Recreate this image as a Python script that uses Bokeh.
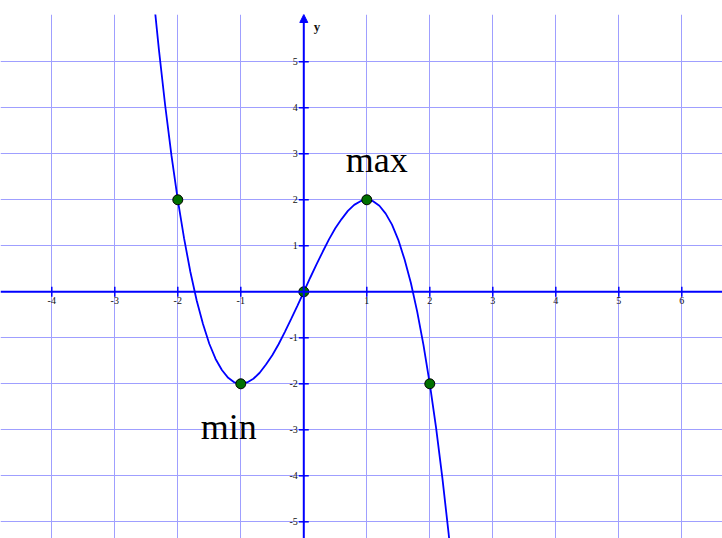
import math
from bokeh.plotting import figure
from bokeh.models import Range1d, Grid, FixedTicker, Span, Arrow, NormalHead
from bokeh.core.properties import value
from bokeh.embed import file_html
from bokeh.resources import INLINE

# ---- data ----
curve_x = [-2.4, -2.3, -2.2, -2.1, -2.0, -1.9, -1.8, -1.7, -1.6, -1.5, -1.4, -1.3, -1.2,
           -1.1, -1.0, -0.9, -0.8, -0.7, -0.6, -0.5, -0.4, -0.3, -0.2, -0.1, 0.0,
           0.1, 0.2, 0.3, 0.4, 0.5, 0.6, 0.7, 0.8, 0.9, 1.0, 1.1, 1.2, 1.3, 1.4,
           1.5, 1.6, 1.7, 1.8, 1.9, 2.0, 2.1, 2.2, 2.3, 2.4]
curve_y = [6.62, 5.27, 4.05, 2.96, 2.0, 1.16, 0.43, -0.19, -0.70, -1.13, -1.46, -1.70, -1.87,
           -1.97, -2.0, -1.97, -1.89, -1.76, -1.58, -1.38, -1.14, -0.87, -0.59, -0.30, 0.0,
           0.30, 0.59, 0.87, 1.14, 1.38, 1.58, 1.76, 1.89, 1.97, 2.0, 1.97, 1.87, 1.70, 1.46,
           1.13, 0.70, 0.19, -0.43, -1.16, -2.0, -2.96, -4.05, -5.27, -6.62]

point_x = [-2, -1, 0, 1, 2]
point_y = [2, -2, 0, 2, -2]

x_ticks = [-4, -3, -2, -1, 1, 2, 3, 4, 5, 6]
y_ticks = [-5, -4, -3, -2, -1, 1, 2, 3, 4, 5]
x_tick_labels = ["-4", "-3", "-2", "-1", "1", "2", "3", "4", "5", "6"]
y_tick_labels = ["-5", "-4", "-3", "-2", "-1", "1", "2", "3", "4", "5"]

max_label = "max"
min_label = "min"
max_point = (1, 2)
min_point = (-1, -2)
axis_label_y = "y"

# ---- figure ----
X0, X1 = -4.814, 6.646
Y0, Y1 = -5.363, 6.028

p = figure(width=722, height=538, output_backend="svg", toolbar_location=None,
           x_range=Range1d(X0, X1), y_range=Range1d(Y0, Y1),
           x_axis_location=None, y_axis_location=None,
           min_border=0, min_border_top=14)
p.outline_line_color = None
p.background_fill_color = "white"
p.border_fill_color = "white"
p.grid.visible = False

grid_color = "#9f9fff"
p.add_layout(Grid(dimension=0, ticker=FixedTicker(ticks=x_ticks),
                  grid_line_color=grid_color, grid_line_width=1))
p.add_layout(Grid(dimension=1, ticker=FixedTicker(ticks=y_ticks),
                  grid_line_color=grid_color, grid_line_width=1))

# axes
p.add_layout(Span(location=0, dimension="width", line_color="#0000ff", line_width=2))
p.add_layout(Arrow(end=NormalHead(size=8, fill_color="#0000ff", line_color="#0000ff", line_width=1),
                   x_start=0, y_start=Y0, x_end=0, y_end=Y1,
                   line_color="#0000ff", line_width=2))

# tick marks
p.scatter(x_ticks, [0] * len(x_ticks), marker="dash", size=10, angle=math.pi / 2,
          line_color="#0000ff", line_width=1.5)
p.scatter([0] * len(y_ticks), y_ticks, marker="dash", size=10,
          line_color="#0000ff", line_width=1.5)

font = value("Liberation Serif")
p.text(x=x_ticks, y=[0] * len(x_ticks), text=x_tick_labels, text_font=font,
       text_font_size="10px", text_color="#111111", text_align="center",
       text_baseline="top", y_offset=5)
p.text(x=[0] * len(y_ticks), y=y_ticks, text=y_tick_labels, text_font=font,
       text_font_size="10px", text_color="#111111", text_align="right",
       text_baseline="middle", x_offset=-6)

p.text(x=[0], y=[Y1], text=[axis_label_y], text_font=font, text_font_size="13px",
       text_font_style="bold", text_color="#111111", text_align="left",
       text_baseline="alphabetic", x_offset=10, y_offset=12)

# curve
p.line(curve_x, curve_y, line_color="#0000ff", line_width=1.8)

# points
p.scatter(point_x, point_y, marker="circle", size=10, fill_color="#007000",
          line_color="#000000", line_width=1)

# labels
p.text(x=[max_point[0]], y=[max_point[1]], text=[max_label], text_font=font,
       text_font_size="36px", text_color="#000000", text_align="center",
       text_baseline="alphabetic", x_offset=10, y_offset=-40)
p.text(x=[min_point[0]], y=[min_point[1]], text=[min_label], text_font=font,
       text_font_size="36px", text_color="#000000", text_align="center",
       text_baseline="alphabetic", x_offset=-12, y_offset=43)

open("out.html", "w").write(file_html(p, INLINE))
